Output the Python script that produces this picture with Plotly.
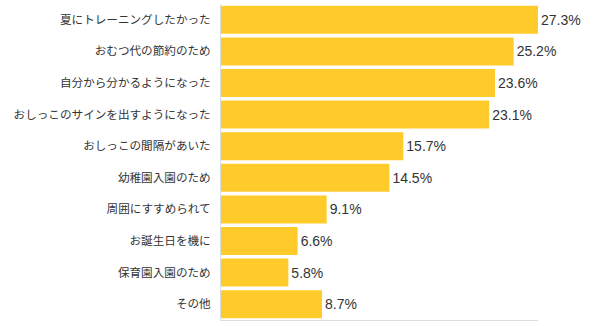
import plotly.graph_objects as go

categories = [
    "夏にトレーニングしたかった",
    "おむつ代の節約のため",
    "自分から分かるようになった",
    "おしっこのサインを出すようになった",
    "おしっこの間隔があいた",
    "幼稚園入園のため",
    "周囲にすすめられて",
    "お誕生日を機に",
    "保育園入園のため",
    "その他",
]
values = [27.3, 25.2, 23.6, 23.1, 15.7, 14.5, 9.1, 6.6, 5.8, 8.7]
value_labels = [f"{v:.1f}%" for v in values]

fig = go.Figure(
    go.Bar(
        x=values,
        y=categories,
        orientation="h",
        marker=dict(color="#FFCB2B", line=dict(width=0)),
        text=value_labels,
        textposition="outside",
        textfont=dict(family="Liberation Sans, Arial, sans-serif", size=14, color="#333333"),
        cliponaxis=False,
    )
)

fig.update_layout(
    width=600,
    height=326,
    margin=dict(l=221, r=62, t=4, b=6),
    paper_bgcolor="white",
    plot_bgcolor="white",
    bargap=0.115,
    showlegend=False,
    xaxis=dict(
        range=[0, 27.3],
        showgrid=False,
        zeroline=False,
        showticklabels=False,
        showline=True,
        linecolor="#dddddd",
        linewidth=1,
        fixedrange=True,
    ),
    yaxis=dict(
        autorange="reversed",
        showgrid=False,
        zeroline=False,
        showline=True,
        linecolor="#d6dee6",
        linewidth=1,
        ticks="",
        ticklabelstandoff=7,
        tickfont=dict(family="Noto Sans CJK JP, sans-serif", size=11.6, color="#333333"),
    ),
)

fig.write_html("out.html")
